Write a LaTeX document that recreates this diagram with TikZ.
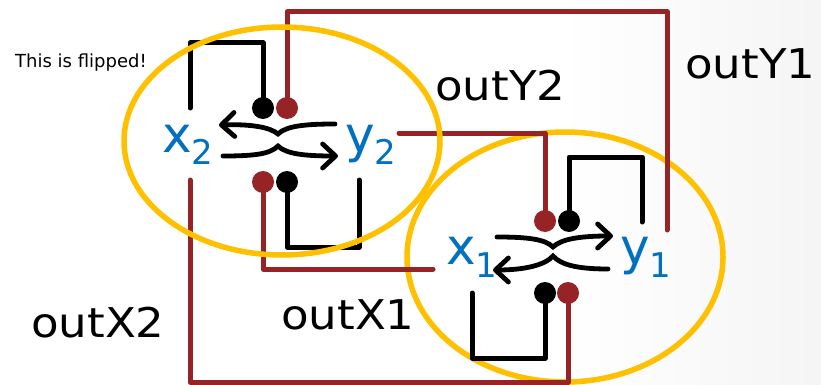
\documentclass[tikz,border=0pt]{standalone}
\usepackage{fontspec}
\setmainfont{DejaVu Sans}
\newfontfamily\widefont[FakeStretch=1.1]{DejaVu Sans}
\usetikzlibrary{arrows.meta}
\definecolor{wirered}{RGB}{150,35,38}
\definecolor{varblue}{RGB}{0,112,192}
\definecolor{ringyellow}{RGB}{255,192,0}
\tikzset{
 wire/.style={line width=5pt, line cap=round, line join=round},
 redwire/.style={wire, draw=wirered},
 blackwire/.style={wire, draw=black},
 reddot/.style={circle, fill=wirered, minimum size=22pt, inner sep=0pt},
 blackdot/.style={circle, fill=black, minimum size=22pt, inner sep=0pt},
 ring/.style={draw=ringyellow, line width=5.5pt},
 flow/.style={line width=4.8pt, line cap=round, -{Straight Barb[length=13pt,width=24pt,line cap=round,line join=round]}},
 varlabel/.style={text=varblue, inner sep=0pt, anchor=base west, font=\fontsize{50}{50}\selectfont},
 outlabel/.style={inner sep=0pt, anchor=base west, font=\widefont\fontsize{41}{42}\selectfont},
 note/.style={inner sep=0pt, anchor=base west, font=\fontsize{18}{20}\selectfont},
}
\newcommand{\varsub}[1]{\raisebox{-13pt}{\fontsize{34}{34}\selectfont #1}}
\begin{document}
\begin{tikzpicture}[x=1pt,y=-1pt]
\useasboundingbox (0,0) rectangle (821,385);
\fill[white] (0,0) rectangle (821,385);
\shade[left color=white, right color=black!4] (560,0) rectangle (821,385);

% ring of module 1 (drawn under the wires)
\draw[ring] (565,257) ellipse [x radius=158, y radius=125];

% labels
\node[varlabel] (x2) at (162,152) {x\varsub{2}};
\node[varlabel] (y2) at (345,152) {y\varsub{2}};
\node[varlabel] (x1) at (446,264) {x\varsub{1}};
\node[varlabel] (y1) at (620,264) {y\varsub{1}};
\node[note] (flip) at (15,68) {This is flipped!};
\node[outlabel] (oy2) at (435,101) {outY2};
\node[outlabel] (oy1) at (685,79) {outY1};
\node[outlabel] (ox2) at (31,337) {outX2};
\node[outlabel] (ox1) at (281,329) {outX1};

% dots
\node[blackdot] (b2t) at (263,108) {};
\node[reddot]   (r2t) at (287,108) {};
\node[reddot]   (r2b) at (263,182) {};
\node[blackdot] (b2b) at (287,182) {};
\node[reddot]   (r1t) at (545,221) {};
\node[blackdot] (b1t) at (569,221) {};
\node[blackdot] (b1b) at (545,293) {};
\node[reddot]   (r1b) at (568,293) {};

% free wire ends
\coordinate (x2in) at (190,108);
\coordinate (y2in) at (359,180);
\coordinate (x2out) at (190,180);
\coordinate (y2out) at (399,133);
\coordinate (y1in) at (642,222);
\coordinate (x1in) at (472,293);
\coordinate (x1out) at (433,269);
\coordinate (y1out) at (667,230);

% black feedback loops
\draw[blackwire] (b2t.center) -- (263,43) -- (190,43) -- (x2in);
\draw[blackwire] (b2b.center) -- (287,247) -- (359,247) -- (y2in);
\draw[blackwire] (b1t.center) -- (569,157) -- (642,157) -- (y1in);
\draw[blackwire] (b1b.center) -- (545,358) -- (472,358) -- (x1in);

% red cross wires
\draw[redwire] (r2t.center) -- (287,12) -- (667,12) -- (y1out);
\draw[redwire] (r2b.center) -- (263,269) -- (x1out);
\draw[redwire] (y2out) -- (545,133) -- (r1t.center);
\draw[redwire] (x2out) -- (190,382) -- (568,382) -- (r1b.center);

% flows of module 2
\coordinate (m2a) at (335,124);
\coordinate (m2b) at (219,125);
\coordinate (m2c) at (223,156);
\coordinate (m2d) at (338,156);
\draw[flow] (m2a) .. controls (305,124) and (286,126) .. (278,134)
  .. controls (270,127) and (250,124) .. (m2b);
\draw[flow] (m2c) .. controls (255,156) and (270,154) .. (278,146)
  .. controls (286,154) and (305,156) .. (m2d);

% flows of module 1
\coordinate (m1a) at (497,237);
\coordinate (m1b) at (613,236);
\coordinate (m1c) at (608,269);
\coordinate (m1d) at (493,270);
\draw[flow] (m1a) .. controls (527,237) and (545,239) .. (553,247)
  .. controls (561,239) and (580,236) .. (m1b);
\draw[flow] (m1c) .. controls (578,269) and (561,265) .. (553,256)
  .. controls (545,265) and (525,270) .. (m1d);

% ring of module 2 (drawn over the wires)
\draw[ring] (282,141) ellipse [x radius=158, y radius=114];
\end{tikzpicture}
\end{document}
